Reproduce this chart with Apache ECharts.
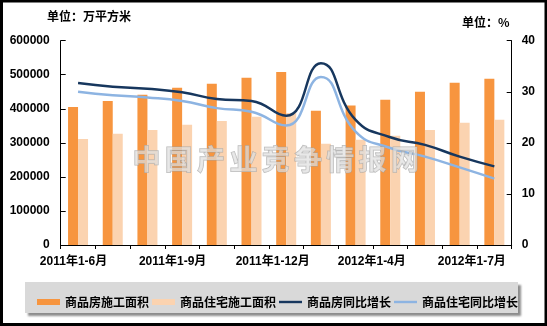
<!DOCTYPE html>
<html>
<head>
<meta charset="utf-8">
<script src="https://cdn.jsdelivr.net/npm/echarts@6/dist/echarts.min.js"></script>
<style>
  html, body { margin: 0; padding: 0; background: #fff; }
  #chart { width: 547px; height: 326px; }
</style>
</head>
<body>
<div id="chart"></div>
<script>
// Periods (cumulative, year-to-date)
const categories = [
  '2011年1-6月', '2011年1-7月', '2011年1-8月', '2011年1-9月', '2011年1-10月',
  '2011年1-11月', '2011年1-12月', '2012年1-2月', '2012年1-3月', '2012年1-4月',
  '2012年1-5月', '2012年1-6月', '2012年1-7月'
];
// Floor area under construction, 10k m²
const areaAll = [405600, 423000, 441000, 461500, 473500, 491000, 508000, 394000, 409500, 426500, 450000, 476500, 488500];
const areaResidential = [311500, 326500, 338000, 353000, 364500, 376500, 388000, 297000, 308800, 320500, 338000, 358800, 367600];
// Year-on-year growth, %
const growthAll = [31.7, 31.0, 30.6, 29.9, 28.6, 28.2, 25.3, 35.6, 24.5, 21.1, 19.6, 17.3, 15.4];
const growthResidential = [30.0, 29.3, 28.9, 28.2, 26.8, 26.1, 23.4, 32.9, 22.2, 19.0, 17.3, 15.2, 13.0];
// Axis ticks
const leftTicks = { min: 0, max: 600000, interval: 100000 };
const rightTicks = { min: 0, max: 40, interval: 10 };

const seriesNames = ['商品房施工面积', '商品住宅施工面积', '商品房同比增长', '商品住宅同比增长'];
const watermark = '中国产业竞争情报网';

const FONT = '"Liberation Sans", "Noto Sans CJK SC", sans-serif';
const CJK = '"Noto Sans CJK SC", "Liberation Sans", sans-serif';

// slight left shift of each shown category label
const labelShift = { 0: 9, 3: 19, 6: 27, 9: 37, 12: 45 };
const richLabels = {};
Object.keys(labelShift).forEach(k => {
  richLabels['s' + k] = {
    fontFamily: FONT, fontSize: 12, fontWeight: 'bold', color: '#000',
    padding: [0, labelShift[k], 0, 0]
  };
});

// spaced-out watermark glyphs
const watermarkGlyphs = watermark.split('').map((ch, i) => ({
  type: 'text', left: 132 + i * 32.3, top: 145, z: 20,
  style: {
    text: ch,
    font: 'bold 28px ' + CJK,
    fill: 'rgba(222,222,222,0.7)',
    stroke: 'rgba(160,160,160,0.75)', lineWidth: 1
  }
}));

const chart = echarts.init(document.getElementById('chart'), null, { renderer: 'canvas' });

const option = {
  animation: false,
  backgroundColor: '#fff',
  grid: { left: 60.7, right: 35.3, top: 40.7, bottom: 81, containLabel: false },
  legend: {
    left: 32, top: 291,
    itemWidth: 23, itemHeight: 6, itemGap: 3,
    symbolKeepAspect: true,
    textStyle: { fontFamily: CJK, fontSize: 12, fontWeight: 'bold', color: '#000' },
    data: [
      { name: seriesNames[0], icon: 'rect' },
      { name: seriesNames[1], icon: 'rect' },
      { name: seriesNames[2], icon: 'path://M0,0L24,0L24,2.5L0,2.5Z' },
      { name: seriesNames[3], icon: 'path://M0,0L24,0L24,2.5L0,2.5Z' }
    ]
  },
  xAxis: {
    type: 'category',
    data: categories,
    boundaryGap: true,
    axisLine: { lineStyle: { color: '#000', width: 1 } },
    axisTick: { show: true, inside: false, length: 4, interval: 0, alignWithLabel: false, lineStyle: { color: '#000' } },
    axisLabel: {
      interval: 2,
      margin: 11,
      fontFamily: FONT, fontSize: 12, fontWeight: 'bold', color: '#000',
      formatter: (v, i) => '{s' + i + '|' + v + '}',
      rich: richLabels
    },
    splitLine: { show: false }
  },
  yAxis: [
    {
      type: 'value',
      min: leftTicks.min, max: leftTicks.max, interval: leftTicks.interval,
      axisLine: { show: true, lineStyle: { color: '#000', width: 1 } },
      axisTick: { show: true, inside: true, length: 5, lineStyle: { color: '#000' } },
      axisLabel: {
        margin: 11, fontFamily: FONT, fontSize: 12, fontWeight: 'bold', color: '#000',
        formatter: v => String(v)
      },
      splitLine: { show: false }
    },
    {
      type: 'value',
      min: rightTicks.min, max: rightTicks.max, interval: rightTicks.interval,
      position: 'right',
      axisLine: { show: true, lineStyle: { color: '#000', width: 1 } },
      axisTick: { show: true, inside: true, length: 5, lineStyle: { color: '#000' } },
      axisLabel: { margin: 10, fontFamily: FONT, fontSize: 12, fontWeight: 'bold', color: '#000' },
      splitLine: { show: false }
    }
  ],
  series: [
    {
      name: seriesNames[0], type: 'bar', yAxisIndex: 0,
      data: areaAll, barWidth: 10, barGap: '0%',
      itemStyle: { color: '#F7953F' }
    },
    {
      name: seriesNames[1], type: 'bar', yAxisIndex: 0,
      data: areaResidential, barWidth: 10, barGap: '0%',
      itemStyle: { color: '#FBD3B0' }
    },
    {
      name: seriesNames[2], type: 'line', yAxisIndex: 1,
      data: growthAll, smooth: 0.5, symbol: 'none', showSymbol: false,
      lineStyle: { color: '#17375E', width: 2.5 },
      itemStyle: { color: '#17375E' }, z: 3
    },
    {
      name: seriesNames[3], type: 'line', yAxisIndex: 1,
      data: growthResidential, smooth: 0.5, symbol: 'none', showSymbol: false,
      lineStyle: { color: '#8DB4E2', width: 2.5 },
      itemStyle: { color: '#8DB4E2' }, z: 3
    }
  ],
  graphic: [
    // unit captions
    {
      type: 'text', left: 47, top: 10, z: 5,
      style: { text: '单位：万平方米', font: 'bold 12px ' + CJK, fill: '#000' }
    },
    {
      type: 'text', left: 462, top: 16, z: 5,
      style: { text: '单位：%', font: 'bold 12px ' + CJK, fill: '#000' }
    },
    ...watermarkGlyphs,
    // legend panel
    {
      type: 'rect', z: 0,
      shape: { x: 25, y: 282, width: 493, height: 31 },
      style: {
        fill: '#d9d9d9',
        shadowBlur: 2, shadowOffsetX: 3, shadowOffsetY: 3, shadowColor: 'rgba(0,0,0,0.45)'
      }
    },
    // outer frame
    {
      type: 'rect', z: 30,
      shape: { x: 1.5, y: 1, width: 544.5, height: 323.5 },
      style: { fill: 'none', stroke: '#000', lineWidth: 3 }
    }
  ]
};

chart.setOption(option);
</script>
</body>
</html>
